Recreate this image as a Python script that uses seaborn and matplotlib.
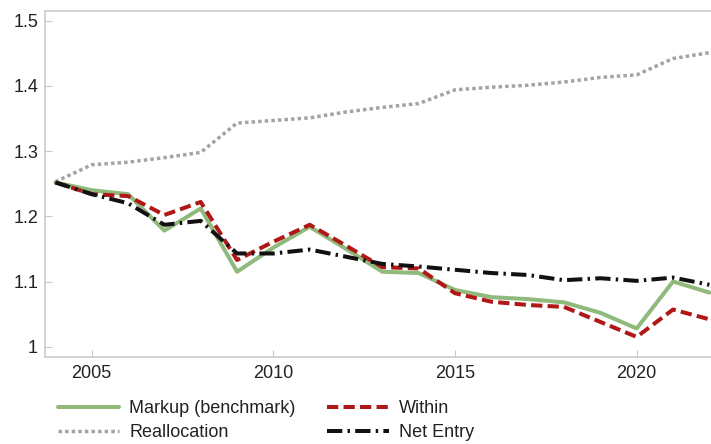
import matplotlib
matplotlib.use("Agg")
import matplotlib.pyplot as plt
import pandas as pd
import seaborn as sns

years = list(range(2004, 2023))
markup = [1.252, 1.240, 1.234, 1.178, 1.212, 1.115, 1.152, 1.184, 1.150, 1.115,
          1.113, 1.087, 1.076, 1.073, 1.068, 1.052, 1.028, 1.100, 1.083]
within = [1.252, 1.234, 1.231, 1.202, 1.222, 1.133, 1.161, 1.187, 1.155, 1.122,
          1.120, 1.082, 1.069, 1.064, 1.061, 1.038, 1.015, 1.057, 1.042]
reallocation = [1.253, 1.279, 1.283, 1.290, 1.298, 1.343, 1.347, 1.351, 1.360, 1.367,
                1.373, 1.394, 1.398, 1.401, 1.406, 1.413, 1.417, 1.442, 1.451]
net_entry = [1.252, 1.234, 1.220, 1.187, 1.193, 1.143, 1.143, 1.149, 1.138, 1.127,
             1.123, 1.118, 1.113, 1.110, 1.102, 1.105, 1.101, 1.106, 1.095]

x_ticks = [2005, 2010, 2015, 2020]
y_ticks = [1.0, 1.1, 1.2, 1.3, 1.4, 1.5]
y_tick_labels = ["1", "1.1", "1.2", "1.3", "1.4", "1.5"]

df = pd.DataFrame({
    "year": years,
    "Markup (benchmark)": markup,
    "Within": within,
    "Reallocation": reallocation,
    "Net Entry": net_entry,
})

sns.set_theme(style="white")
plt.rcParams["font.family"] = ["Liberation Sans", "DejaVu Sans"]

fig = plt.figure(figsize=(7.11, 4.44), dpi=100)
ax = fig.add_axes([45 / 711, 1 - 357 / 444, 1 - 45 / 711, (357 - 11) / 444])

styles = {
    "Markup (benchmark)": dict(color="#8fba7c", linestyle="-", lw=2.9),
    "Reallocation": dict(color="#a3a3a3", linestyle=(0, (1.0, 0.9)), lw=2.5),
    "Within": dict(color="#b01818", linestyle=(0, (2.8, 1.3)), lw=2.9),
    "Net Entry": dict(color="#111111", linestyle=(0, (3.8, 1.3, 0.6, 1.3)), lw=2.9),
}

handles = {}
for name in ["Markup (benchmark)", "Within", "Reallocation", "Net Entry"]:
    st = styles[name]
    sns.lineplot(data=df, x="year", y=name, ax=ax, color=st["color"],
                 linestyle=st["linestyle"], linewidth=st["lw"], label=name,
                 legend=False)
    handles[name] = ax.lines[-1]

ax.set_xlim(2003.714, 2022.045)
ax.set_ylim(0.9842, 1.5149)
ax.set_xticks(x_ticks)
ax.set_xticklabels([str(t) for t in x_ticks])
ax.set_yticks(y_ticks)
ax.set_yticklabels(y_tick_labels)
ax.set_xlabel("")
ax.set_ylabel("")

for side in ["left", "bottom", "top"]:
    ax.spines[side].set_visible(True)
    ax.spines[side].set_color("#c8c8c8")
    ax.spines[side].set_linewidth(1.1)
ax.spines["right"].set_visible(False)

ax.tick_params(axis="both", direction="in", length=5, width=0.8, color="#c8c8c8",
               labelsize=13, labelcolor="#222222")
ax.tick_params(axis="y", pad=5)
ax.tick_params(axis="x", pad=6)
ax.tick_params(left=True, bottom=True)

order = ["Markup (benchmark)", "Reallocation", "Within", "Net Entry"]
fig.legend([handles[n] for n in order], order, loc="upper left",
           bbox_to_anchor=(58 / 711, 1 - 400 / 444), bbox_transform=fig.transFigure,
           ncol=2, frameon=False, fontsize=13, handlelength=3.4, handletextpad=0.55,
           columnspacing=1.75, labelspacing=0.38, borderpad=0, borderaxespad=0,
           labelcolor="#222222")

fig.savefig("out.png", dpi=100)
